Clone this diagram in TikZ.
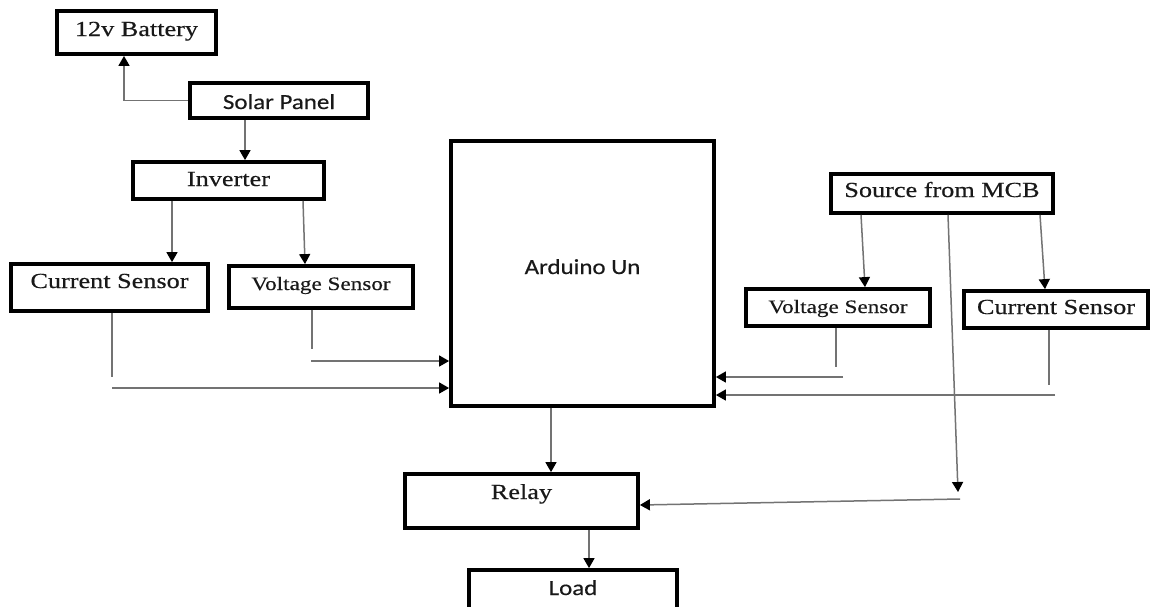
\documentclass[tikz,border=0pt]{standalone}
\usepackage{fontspec}
\usetikzlibrary{arrows.meta,positioning,calc}
\newfontfamily\srf[FakeStretch=1.22,FakeBold=0.4]{Liberation Serif}
\newfontfamily\snf[FakeStretch=1.16,FakeBold=0.4]{Carlito}
\tikzset{
  blk/.style={draw=black, line width=3.8pt, rectangle, inner sep=0pt, anchor=center, text=black!90},
  conn/.style={draw=black!55, line width=1.5pt},
  arr/.style={conn, -{Triangle[length=10pt,width=11pt,color=black]}},
  serif21/.style={font=\srf\fontsize{21.5}{24}\selectfont},
  serif19/.style={font=\srf\fontsize{19}{22}\selectfont},
  sans21/.style={font=\snf\fontsize{21.5}{24}\selectfont},
}
\begin{document}
\begin{tikzpicture}[x=1pt,y=-1pt]
\clip (0,0) rectangle (1151,606);
\fill[white] (0,0) rectangle (1151,606);
% boxes
\node[blk,serif21,minimum width=159pt,text height=25pt,text depth=18pt] (bat) at (136.5,32.5) {12v Battery};
\node[blk,sans21,minimum width=178pt,text height=26pt,text depth=9pt] (solar) at (279,100.5) {Solar Panel};
\node[blk,serif21,minimum width=191pt,text height=24pt,text depth=13pt] (inv) at (228.5,180.5) {Inverter};
\node[blk,serif21,minimum width=197pt,text height=24pt,text depth=23pt] (cs1) at (109.5,287.5) {Current Sensor};
\node[blk,serif19,minimum width=184pt,text height=24pt,text depth=18pt] (vs1) at (321,287) {Voltage Sensor};
\node[blk,sans21,minimum width=263pt,text height=133pt,text depth=132pt] (ard) at (582.5,273.5) {Arduino Un};
\node[blk,serif21,minimum width=222pt,text height=23pt,text depth=16pt] (mcb) at (942,193.5) {Source from MCB};
\node[blk,serif19,minimum width=184pt,text height=24pt,text depth=13pt] (vs2) at (838,307.5) {Voltage Sensor};
\node[blk,serif21,minimum width=184pt,text height=23pt,text depth=14pt] (cs2) at (1056,309.5) {Current Sensor};
\node[blk,serif21,minimum width=233pt,text height=25pt,text depth=29pt] (relay) at (521.5,501) {Relay};
\node[blk,sans21,minimum width=208pt,text height=25pt,text depth=17pt] (load) at (573,591) {Load};
% free ends
\coordinate (c1a) at (112,377);
\coordinate (c1b) at (112,388);
\coordinate (v1a) at (312,349);
\coordinate (v1b) at (311,361);
\coordinate (v2a) at (836,367);
\coordinate (v2b) at (843,377);
\coordinate (c2a) at (1049,385);
\coordinate (c2b) at (1055,395);
\coordinate (m1) at (958,492);
\coordinate (m2) at (960,499);
% connectors
\draw[arr] (solar.west) -| ([xshift=-12.5pt]bat.south);
\draw[arr] ([xshift=-34pt]solar.south) -- ([xshift=-34pt]solar.south |- inv.north);
\draw[arr] ([xshift=-56.5pt]inv.south) -- ([xshift=-56.5pt]inv.south |- cs1.north);
\draw[arr] ([xshift=74.5pt]inv.south) -- ([xshift=-16pt]vs1.north);
\draw[conn] (cs1.south -| c1a) -- (c1a);
\draw[arr] (c1b) -- (c1b -| ard.west);
\draw[conn] (vs1.south -| v1a) -- (v1a);
\draw[arr] (v1b) -- (v1b -| ard.west);
\draw[conn] (vs2.south -| v2a) -- (v2a);
\draw[arr] (v2b) -- (v2b -| ard.east);
\draw[conn] (cs2.south -| c2a) -- (c2a);
\draw[arr] (c2b) -- (c2b -| ard.east);
\draw[arr] ([xshift=-81pt]mcb.south) -- ([xshift=27pt]vs2.north);
\draw[arr] ([xshift=98pt]mcb.south) -- ([xshift=-11pt]cs2.north);
\draw[arr] ([xshift=6pt]mcb.south) -- (m1);
\draw[arr] (m2) -- ([yshift=-4pt]relay.east);
\draw[arr] ([xshift=-31.5pt]ard.south) -- ([xshift=-31.5pt]ard.south |- relay.north);
\draw[arr] ([xshift=67.5pt]relay.south) -- ([xshift=67.5pt]relay.south |- load.north);
\end{tikzpicture}
\end{document}
